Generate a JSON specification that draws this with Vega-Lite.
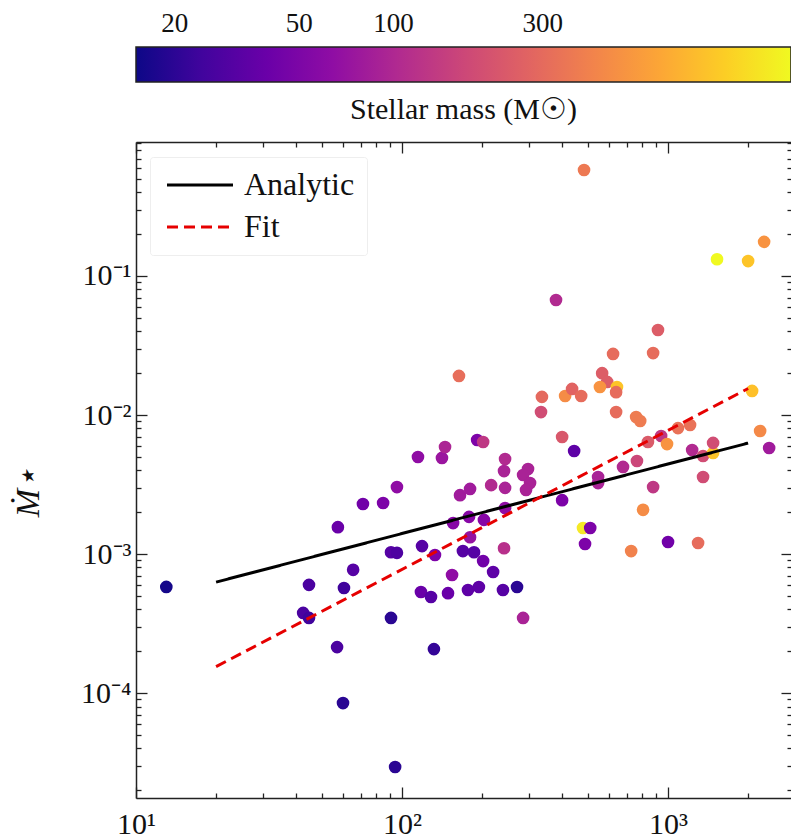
{
  "$schema": "https://vega.github.io/schema/vega-lite/v6.json",
  "autosize": {"type": "pad"},
  "padding": {"left": 11, "top": 1, "right": 0, "bottom": 0},
  "background": "white",
  "config": {
    "font": "Liberation Serif",
    "view": {"stroke": null},
    "axis": {"labelFont": "Liberation Serif", "titleFont": "Liberation Serif", "labelColor": "#111111", "titleColor": "#111111", "domainColor": "#222222", "tickColor": "#222222", "grid": false, "labelFlush": false, "labelOverlap": false, "domainWidth": 1.5, "tickWidth": 1.3}
  },
  "spacing": 60,
  "bounds": "flush",
  "vconcat": [
    {
      "width": 655,
      "height": 35,
      "data": {"values": [{"lo": 15.1, "hi": 1872}]},
      "mark": {"type": "rect", "stroke": "#222222", "strokeWidth": 1.5, "fill": {"gradient": "linear", "x1": 0, "y1": 0, "x2": 1, "y2": 0, "stops": [
        {"offset": 0.0, "color": "#0d0887"}, {"offset": 0.1, "color": "#41049d"}, {"offset": 0.2, "color": "#6a00a8"}, {"offset": 0.3, "color": "#8f0da4"}, {"offset": 0.4, "color": "#b12a90"}, {"offset": 0.5, "color": "#cc4778"}, {"offset": 0.6, "color": "#e16462"}, {"offset": 0.7, "color": "#f2844b"}, {"offset": 0.8, "color": "#fca636"}, {"offset": 0.9, "color": "#fcce25"}, {"offset": 1.0, "color": "#f0f921"}]}},
      "encoding": {
        "x": {"field": "lo", "type": "quantitative", "scale": {"type": "log", "domain": [15.1, 1872]},
          "axis": {"orient": "top", "title": null, "domain": false, "values": [20, 30, 40, 50, 60, 70, 80, 90, 100, 200, 300, 400, 500, 600, 700, 800, 900, 1000],
            "labelExpr": "(datum.value == 20 || datum.value == 50 || datum.value == 100 || datum.value == 300) ? format(datum.value, 'd') : ''",
            "tickSize": {"condition": {"test": "datum.value == 20 || datum.value == 50 || datum.value == 100 || datum.value == 300", "value": -13}, "value": -5},
            "labelFontSize": 27, "labelPadding": 23}},
        "x2": {"field": "hi"}
      },
      "title": {"text": "Stellar mass (M☉)", "orient": "bottom", "fontSize": 30, "font": "Liberation Serif", "fontWeight": "normal", "offset": 12, "color": "#111111"}
    },
    {
      "width": 656,
      "height": 656,
      "resolve": {"axis": {"x": "independent", "y": "independent"}},
      "layer": [
        {
          "data": {"name": "pts", "values": [
            {"x": 13.0, "y": 0.00058, "m": 16},
            {"x": 44.7, "y": 0.0006, "m": 27},
            {"x": 60.5, "y": 0.00057, "m": 24},
            {"x": 65.5, "y": 0.00077, "m": 31},
            {"x": 57.4, "y": 0.00156, "m": 39},
            {"x": 71.3, "y": 0.00229, "m": 43},
            {"x": 84.9, "y": 0.00233, "m": 50},
            {"x": 95.7, "y": 0.00303, "m": 63},
            {"x": 114.8, "y": 0.00499, "m": 63},
            {"x": 141.3, "y": 0.00491, "m": 73},
            {"x": 145.1, "y": 0.00589, "m": 95},
            {"x": 42.5, "y": 0.000377, "m": 27},
            {"x": 44.7, "y": 0.000347, "m": 24},
            {"x": 90.9, "y": 0.00103, "m": 31},
            {"x": 95.7, "y": 0.00102, "m": 28},
            {"x": 118.9, "y": 0.00114, "m": 31},
            {"x": 133.0, "y": 0.000984, "m": 50},
            {"x": 117.8, "y": 0.000533, "m": 39},
            {"x": 128.5, "y": 0.000491, "m": 31},
            {"x": 90.9, "y": 0.000347, "m": 19},
            {"x": 57.0, "y": 0.000214, "m": 27},
            {"x": 131.8, "y": 0.000207, "m": 21},
            {"x": 148.9, "y": 0.000523, "m": 39},
            {"x": 154.2, "y": 0.000706, "m": 63},
            {"x": 155.6, "y": 0.00167, "m": 57},
            {"x": 60.0, "y": 0.0000847, "m": 19},
            {"x": 94.2, "y": 0.0000294, "m": 19},
            {"x": 163.7, "y": 0.0191, "m": 320},
            {"x": 165.2, "y": 0.00265, "m": 80},
            {"x": 180.2, "y": 0.00294, "m": 80},
            {"x": 191.6, "y": 0.00661, "m": 50},
            {"x": 201.8, "y": 0.00639, "m": 131},
            {"x": 216.3, "y": 0.00313, "m": 104},
            {"x": 244.0, "y": 0.00482, "m": 104},
            {"x": 241.8, "y": 0.00395, "m": 92},
            {"x": 244.0, "y": 0.00299, "m": 92},
            {"x": 297.6, "y": 0.00409, "m": 92},
            {"x": 285.2, "y": 0.0037, "m": 92},
            {"x": 302.9, "y": 0.00324, "m": 92},
            {"x": 292.5, "y": 0.00289, "m": 92},
            {"x": 178.6, "y": 0.00185, "m": 57},
            {"x": 203.2, "y": 0.00176, "m": 57},
            {"x": 244.0, "y": 0.00214, "m": 63},
            {"x": 180.2, "y": 0.00132, "m": 69},
            {"x": 241.8, "y": 0.0011, "m": 115},
            {"x": 169.4, "y": 0.00105, "m": 31},
            {"x": 186.5, "y": 0.00103, "m": 31},
            {"x": 201.8, "y": 0.00089, "m": 43},
            {"x": 220.0, "y": 0.000743, "m": 34},
            {"x": 177.0, "y": 0.000551, "m": 34},
            {"x": 194.5, "y": 0.000579, "m": 34},
            {"x": 239.6, "y": 0.000551, "m": 31},
            {"x": 270.6, "y": 0.000579, "m": 19},
            {"x": 285.2, "y": 0.000347, "m": 92},
            {"x": 335.7, "y": 0.0135, "m": 296},
            {"x": 333.0, "y": 0.0105, "m": 185},
            {"x": 399.8, "y": 0.00695, "m": 223},
            {"x": 443.6, "y": 0.00551, "m": 34},
            {"x": 399.8, "y": 0.00244, "m": 50},
            {"x": 410.3, "y": 0.0137, "m": 500},
            {"x": 435.8, "y": 0.0154, "m": 270},
            {"x": 471.4, "y": 0.0137, "m": 310},
            {"x": 483.3, "y": 0.579, "m": 375},
            {"x": 379.2, "y": 0.0672, "m": 104},
            {"x": 565.3, "y": 0.02, "m": 245},
            {"x": 590.5, "y": 0.0173, "m": 245},
            {"x": 554.6, "y": 0.0159, "m": 550},
            {"x": 642.7, "y": 0.0159, "m": 1030},
            {"x": 637.9, "y": 0.0146, "m": 310},
            {"x": 621.4, "y": 0.0275, "m": 310},
            {"x": 878.8, "y": 0.0279, "m": 310},
            {"x": 916.6, "y": 0.0409, "m": 245},
            {"x": 637.9, "y": 0.0105, "m": 310},
            {"x": 758.6, "y": 0.00968, "m": 393},
            {"x": 785.9, "y": 0.00906, "m": 393},
            {"x": 545.8, "y": 0.00358, "m": 92},
            {"x": 545.8, "y": 0.00324, "m": 92},
            {"x": 677.3, "y": 0.00423, "m": 104},
            {"x": 764.1, "y": 0.00467, "m": 168},
            {"x": 840.3, "y": 0.00639, "m": 234},
            {"x": 941.9, "y": 0.00706, "m": 131},
            {"x": 991.3, "y": 0.00618, "m": 550},
            {"x": 1090, "y": 0.00805, "m": 341},
            {"x": 1210, "y": 0.00848, "m": 341},
            {"x": 1232, "y": 0.0056, "m": 104},
            {"x": 1354, "y": 0.00507, "m": 185},
            {"x": 1477, "y": 0.00533, "m": 1030},
            {"x": 1477, "y": 0.0063, "m": 185},
            {"x": 1354, "y": 0.00358, "m": 185},
            {"x": 878.8, "y": 0.00303, "m": 131},
            {"x": 805.6, "y": 0.00208, "m": 500},
            {"x": 1000, "y": 0.00122, "m": 43},
            {"x": 1297, "y": 0.0012, "m": 310},
            {"x": 726.7, "y": 0.00105, "m": 433},
            {"x": 479.0, "y": 0.00154, "m": 1580},
            {"x": 509.9, "y": 0.00154, "m": 50},
            {"x": 487.5, "y": 0.00118, "m": 50},
            {"x": 1528, "y": 0.132, "m": 1870},
            {"x": 2000, "y": 0.128, "m": 1030},
            {"x": 2297, "y": 0.176, "m": 550},
            {"x": 2070, "y": 0.0149, "m": 980},
            {"x": 2219, "y": 0.00767, "m": 476},
            {"x": 2399, "y": 0.00579, "m": 80}
          ]},
          "mark": {"type": "circle", "size": 160, "opacity": 1},
          "encoding": {
            "x": {"field": "x", "type": "quantitative", "scale": {"type": "log", "domain": [10, 2924]},
              "axis": {"orient": "bottom", "title": null, "values": [10, 20, 30, 40, 50, 60, 70, 80, 90, 100, 200, 300, 400, 500, 600, 700, 800, 900, 1000, 2000],
                "labelExpr": "datum.value == 10 ? '10¹' : datum.value == 100 ? '10²' : datum.value == 1000 ? '10³' : ''",
                "tickSize": {"condition": {"test": "datum.value == 10 || datum.value == 100 || datum.value == 1000", "value": -11}, "value": -5},
                "labelFontSize": 30, "labelPadding": 22}},
            "y": {"field": "y", "type": "quantitative", "scale": {"type": "log", "domain": [0.00001758, 0.92]},
              "axis": {"orient": "left", "title": "Ṁ⋆", "titleFontSize": 34, "titleFontStyle": "italic", "titleFontWeight": "normal", "titleAngle": -90, "titleX": -108, "titleY": 350, "titleAlign": "center", "titleBaseline": "middle",
                "values": [0.00002, 0.00003, 0.00004, 0.00005, 0.00006, 0.00007, 0.00008, 0.00009, 0.0001, 0.0002, 0.0003, 0.0004, 0.0005, 0.0006, 0.0007, 0.0008, 0.0009, 0.001, 0.002, 0.003, 0.004, 0.005, 0.006, 0.007, 0.008, 0.009, 0.01, 0.02, 0.03, 0.04, 0.05, 0.06, 0.07, 0.08, 0.09, 0.1, 0.2, 0.3, 0.4, 0.5, 0.6, 0.7, 0.8, 0.9],
                "labelExpr": "datum.value == 0.0001 ? '10⁻⁴' : datum.value == 0.001 ? '10⁻³' : datum.value == 0.01 ? '10⁻²' : datum.value == 0.1 ? '10⁻¹' : ''",
                "tickSize": {"condition": {"test": "datum.value == 0.0001 || datum.value == 0.001 || datum.value == 0.01 || datum.value == 0.1", "value": -11}, "value": -5},
                "labelFontSize": 30, "labelPadding": 16}},
            "color": {"field": "m", "type": "quantitative", "scale": {"type": "log", "domain": [15.1, 1872], "scheme": "plasma"}, "legend": null}
          }
        },
        {
          "data": {"name": "pts"},
          "mark": {"type": "point", "opacity": 0},
          "encoding": {
            "x": {"field": "x", "type": "quantitative", "scale": {"type": "log", "domain": [10, 2924]},
              "axis": {"orient": "top", "title": null, "labels": false, "values": [10, 20, 30, 40, 50, 60, 70, 80, 90, 100, 200, 300, 400, 500, 600, 700, 800, 900, 1000, 2000],
                "tickSize": {"condition": {"test": "datum.value == 10 || datum.value == 100 || datum.value == 1000", "value": -11}, "value": -5}}},
            "y": {"field": "y", "type": "quantitative", "scale": {"type": "log", "domain": [0.00001758, 0.92]},
              "axis": {"orient": "right", "title": null, "labels": false,
                "values": [0.00002, 0.00003, 0.00004, 0.00005, 0.00006, 0.00007, 0.00008, 0.00009, 0.0001, 0.0002, 0.0003, 0.0004, 0.0005, 0.0006, 0.0007, 0.0008, 0.0009, 0.001, 0.002, 0.003, 0.004, 0.005, 0.006, 0.007, 0.008, 0.009, 0.01, 0.02, 0.03, 0.04, 0.05, 0.06, 0.07, 0.08, 0.09, 0.1, 0.2, 0.3, 0.4, 0.5, 0.6, 0.7, 0.8, 0.9],
                "tickSize": {"condition": {"test": "datum.value == 0.0001 || datum.value == 0.001 || datum.value == 0.01 || datum.value == 0.1", "value": -11}, "value": -5}}}
          }
        },
        {
          "data": {"values": [
            {"series": "Analytic", "x": 20, "y": 0.000628},
            {"series": "Analytic", "x": 2000, "y": 0.00628},
            {"series": "Fit", "x": 20, "y": 0.000155},
            {"series": "Fit", "x": 2000, "y": 0.0155}
          ]},
          "mark": {"type": "line", "strokeWidth": 3},
          "encoding": {
            "x": {"field": "x", "type": "quantitative", "scale": {"type": "log", "domain": [10, 2924]}, "axis": null},
            "y": {"field": "y", "type": "quantitative", "scale": {"type": "log", "domain": [0.00001758, 0.92]}, "axis": null},
            "stroke": {"field": "series", "type": "nominal", "scale": {"domain": ["Analytic", "Fit"], "range": ["#000000", "#e60000"]},
              "legend": {"title": null, "orient": "none", "legendX": 14, "legendY": 110, "symbolType": "M-1,0H5", "symbolSize": 484, "symbolStrokeWidth": 3, "symbolFillColor": "transparent", "labelFontSize": 32, "labelFont": "Liberation Serif", "labelColor": "#111111", "labelOffset": 50, "padding": 12, "rowPadding": 10, "strokeColor": "#eeeeee", "fillColor": "white", "cornerRadius": 3}},
            "strokeDash": {"field": "series", "type": "nominal", "scale": {"domain": ["Analytic", "Fit"], "range": [[1, 0], [11, 6]]}}
          }
        }
      ]
    }
  ]
}
